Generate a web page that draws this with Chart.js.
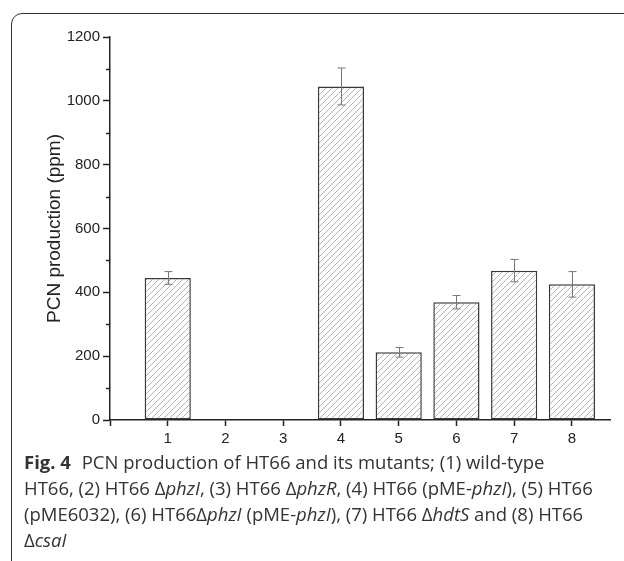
<!DOCTYPE html>
<html lang="en">
  <head>
    <meta charset="UTF-8" />
    <title>PCN production</title>
    <script src="https://cdn.jsdelivr.net/npm/chart.js"></script>
    <style>
      body {
        margin: 0;
        background: #fff;
        width: 624px;
        height: 561px;
        overflow: hidden;
        position: relative;
      }
      .frame {
        position: absolute;
        left: 11px;
        top: 13px;
        width: 700px;
        height: 560px;
        border: 1.5px solid #333;
        border-radius: 11px;
      }
      .wrap {
        position: absolute;
        left: 0;
        top: 0;
        width: 624px;
        height: 455px;
      }
      .caption {
        position: absolute;
        left: 24px;
        top: 449px;
        font-family: "Open Sans", sans-serif;
        font-size: 18.5px;
        line-height: 26px;
        color: #333;
        white-space: nowrap;
      }
      .caption b {
        font-weight: 700;
        margin-right: 6px;
      }
    </style>
  </head>
  <body>
    <div class="frame"></div>
    <div class="wrap"><canvas id="chart"></canvas></div>
    <div class="caption">
      <b>Fig. 4</b> PCN production of HT66 and its mutants; (1) wild-type<br />
      HT66, (2) HT66 Δ<i>phzI</i>, (3) HT66 Δ<i>phzR</i>, (4) HT66 (pME-<i>phzI</i>), (5) HT66<br />
      (pME6032), (6) HT66Δ<i>phzI</i> (pME-<i>phzI</i>), (7) HT66 Δ<i>hdtS</i> and (8) HT66<br />
      Δ<i>csaI</i>
    </div>

    <script>
      // strain number on the x axis
      const groups = [1, 2, 3, 4, 5, 6, 7, 8];
      // PCN production (ppm)
      const pcn = [445, 0, 0, 1045, 212, 369, 468, 425];
      // standard deviation
      const pcnErr = [20, 0, 0, 58, 15, 21, 35, 40];

      const axisFont = { family: "Arial, 'Liberation Sans', sans-serif", size: 15 };

      // diagonal hatch fill
      function makeHatch() {
        const c = document.createElement("canvas");
        c.width = 6;
        c.height = 6;
        const g = c.getContext("2d");
        g.fillStyle = "#fff";
        g.fillRect(0, 0, 6, 6);
        g.strokeStyle = "#a0a0a0";
        g.lineWidth = 0.8;
        g.beginPath();
        g.moveTo(-1, 7);
        g.lineTo(7, -1);
        g.stroke();
        return g.createPattern(c, "repeat");
      }

      const errorBars = {
        id: "errorBars",
        afterDatasetsDraw(chart) {
          const { ctx, scales } = chart;
          ctx.save();
          ctx.strokeStyle = "#777";
          ctx.lineWidth = 1;
          pcn.forEach((v, i) => {
            if (!pcnErr[i]) return;
            const x = Math.round(scales.x.getPixelForValue(groups[i])) + 0.5;
            const y1 = scales.y.getPixelForValue(v + pcnErr[i]);
            const y2 = scales.y.getPixelForValue(v - pcnErr[i]);
            ctx.beginPath();
            ctx.moveTo(x, y1);
            ctx.lineTo(x, y2);
            ctx.moveTo(x - 4, y1);
            ctx.lineTo(x + 4, y1);
            ctx.moveTo(x - 4, y2);
            ctx.lineTo(x + 4, y2);
            ctx.stroke();
          });
          ctx.restore();
        },
      };

      // short minor ticks on the y axis
      const minorTicks = {
        id: "minorTicks",
        afterDraw(chart) {
          const { ctx } = chart;
          const s = chart.scales.y;
          ctx.save();
          ctx.strokeStyle = "#222";
          ctx.lineWidth = 1.5;
          for (let v = 100; v < 1200; v += 200) {
            const y = Math.round(s.getPixelForValue(v)) + 0.5;
            ctx.beginPath();
            ctx.moveTo(s.right - 4, y);
            ctx.lineTo(s.right, y);
            ctx.stroke();
          }
          ctx.restore();
        },
      };

      const chart = new Chart(document.getElementById("chart"), {
        type: "bar",
        data: {
          datasets: [
            {
              data: groups.map((g, i) => ({ x: g, y: pcn[i] })),
              backgroundColor: makeHatch(),
              borderColor: "#3a3a3a",
              borderWidth: 1.5,
              borderSkipped: false,
              barPercentage: 0.8,
              categoryPercentage: 1,
            },
          ],
        },
        options: {
          responsive: true,
          maintainAspectRatio: false,
          animation: false,
          layout: { padding: { top: 37, right: 14, left: 0, bottom: 0 } },
          plugins: {
            legend: { display: false },
            tooltip: { enabled: false },
          },
          scales: {
            x: {
              type: "linear",
              min: 0,
              max: 8.66,
              offset: false,
              afterFit: (s) => (s.height = 35),
              border: { color: "#222", width: 1.5 },
              grid: { drawOnChartArea: false, offset: false, tickLength: 6, color: "#222", tickWidth: 1.5 },
              ticks: {
                stepSize: 1,
                includeBounds: false,
                padding: 4,
                color: "#222",
                font: axisFont,
                maxRotation: 0,
                callback: (v) => (v === 0 ? "" : String(v)),
              },
            },
            y: {
              min: 0,
              max: 1200,
              afterFit: (s) => (s.width = 110),
              border: { color: "#222", width: 1.5 },
              grid: { drawOnChartArea: false, tickLength: 7, color: "#222", tickWidth: 1.5 },
              ticks: {
                stepSize: 200,
                padding: 3,
                color: "#222",
                font: axisFont,
                callback: (v) => String(v),
              },
              title: {
                display: true,
                text: "PCN production (ppm)",
                color: "#222",
                font: { family: "Arial, 'Liberation Sans', sans-serif", size: 19 },
                padding: { top: 43, bottom: 0 },
              },
            },
          },
        },
        plugins: [errorBars, minorTicks],
      });
    </script>
  </body>
</html>
